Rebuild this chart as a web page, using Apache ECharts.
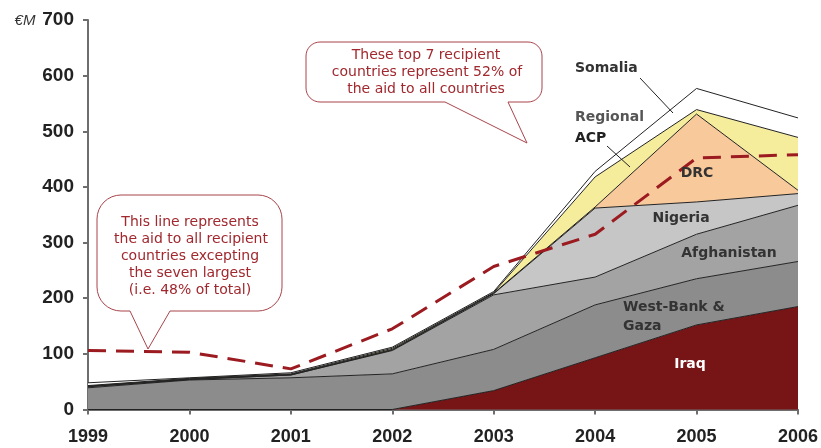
<!DOCTYPE html>
<html>
<head>
<meta charset="utf-8">
<style>
html,body{margin:0;padding:0;background:#fff;}
#chart{width:821px;height:448px;}
</style>
<script src="https://cdn.jsdelivr.net/npm/echarts@6/dist/echarts.min.js"></script>
</head>
<body>
<div id="chart"></div>
<script>
const years = ['1999', '2000', '2001', '2002', '2003', '2004', '2005', '2006'];
const iraq = [0, 0, 0, 0, 34, 93, 152, 185];
const westBankGaza = [39, 53, 57, 64, 74, 95, 83, 81];
const afghanistan = [2, 1, 5, 42, 98, 50, 80, 101];
const nigeria = [0, 0, 0, 1, 2, 124, 58, 21];
const drc = [1, 1, 1, 1, 1, 2, 158, 6];
const regionalACP = [1, 1, 1, 2, 1, 54, 8, 95];
const somalia = [5, 1, 2, 2, 2, 10, 38, 35];
const otherCountries = [106, 103, 73, 145, 257, 315, 452, 458];

const chart = echarts.init(document.getElementById('chart'));

function areaSeries(name, data, color) {
  return {
    name: name, type: 'line', stack: 'total', data: data,
    symbol: 'none', smooth: false,
    lineStyle: { color: '#222', width: 1 },
    areaStyle: { color: color, opacity: 1 },
    emphasis: { disabled: true }
  };
}

// rounded-rectangle callout outline with a tail on the bottom edge
function bubblePoints(x1, y1, x2, y2, r, tailA, tailB, tip) {
  const pts = [];
  function arc(cx, cy, a0, a1) {
    const n = 8;
    for (let i = 0; i <= n; i++) {
      const a = a0 + (a1 - a0) * i / n;
      pts.push([cx + r * Math.cos(a), cy + r * Math.sin(a)]);
    }
  }
  arc(x1 + r, y1 + r, Math.PI, Math.PI * 1.5);
  arc(x2 - r, y1 + r, Math.PI * 1.5, Math.PI * 2);
  arc(x2 - r, y2 - r, 0, Math.PI * 0.5);
  pts.push([tailB, y2]);
  pts.push(tip);
  pts.push([tailA, y2]);
  arc(x1 + r, y2 - r, Math.PI * 0.5, Math.PI);
  return pts;
}

const redText = '#a1282e';
const redBorder = '#a8444a';
const labFont = 'bold 14px "DejaVu Sans"';
const bFont = '14px "DejaVu Sans"';

function t(x, y, text, fill, font, align) {
  return { type: 'text', z: 101, x: x, y: y, style: { text: text, fill: fill, font: font, textAlign: align || 'center', textVerticalAlign: 'middle' } };
}

const option = {
  animation: false,
  grid: { left: 88, right: 21, top: 20, bottom: 38.5 },
  xAxis: {
    type: 'category', data: years, boundaryGap: false,
    axisLine: { lineStyle: { color: '#6e6e6e', width: 2 } },
    axisTick: { lineStyle: { color: '#6e6e6e', width: 2 }, length: 5 },
    axisLabel: { color: '#222', fontSize: 18, fontWeight: 'bold', fontFamily: 'Liberation Sans', margin: 19 },
    splitLine: { show: false }
  },
  yAxis: {
    type: 'value', min: 0, max: 700, interval: 100,
    axisLine: { show: true, lineStyle: { color: '#6e6e6e', width: 2 } },
    axisTick: { show: true, lineStyle: { color: '#6e6e6e', width: 2 }, length: 5 },
    axisLabel: { color: '#222', fontSize: 19, fontWeight: 'bold', fontFamily: 'Liberation Sans', margin: 14 },
    splitLine: { show: false }
  },
  series: [
    areaSeries('Iraq', iraq, '#771416'),
    areaSeries('West-Bank & Gaza', westBankGaza, '#8c8c8c'),
    areaSeries('Afghanistan', afghanistan, '#a3a3a3'),
    areaSeries('Nigeria', nigeria, '#c6c6c6'),
    areaSeries('DRC', drc, '#f8c99b'),
    areaSeries('Regional ACP', regionalACP, '#f5ec9c'),
    areaSeries('Somalia', somalia, '#ffffff'),
    {
      name: 'Other countries', type: 'line', data: otherCountries,
      symbol: 'none', smooth: false, z: 5,
      lineStyle: { color: '#9b1b20', width: 3, type: [18, 10] },
      emphasis: { disabled: true }
    }
  ],
  graphic: [
    t(25, 21, '€M', '#333', 'italic 15px "Liberation Sans"'),
    { type: 'polygon', z: 100, shape: { points: bubblePoints(306, 42, 542, 102, 14, 445, 508, [527, 143]) },
      style: { fill: '#fff', stroke: redBorder, lineWidth: 1 } },
    t(426, 55, 'These top 7 recipient', redText, bFont),
    t(427, 72, 'countries represent 52% of', redText, bFont),
    t(426, 89, 'the aid to all countries', redText, bFont),
    { type: 'polygon', z: 100, shape: { points: bubblePoints(97, 195, 282, 311, 24, 130, 170, [148, 349]) },
      style: { fill: '#fff', stroke: redBorder, lineWidth: 1 } },
    t(190, 222, 'This line represents', redText, bFont),
    t(191, 239, 'the aid to all recipient', redText, bFont),
    t(190, 256, 'countries excepting', redText, bFont),
    t(190, 273, 'the seven largest', redText, bFont),
    t(190, 290, '(i.e. 48% of total)', redText, bFont),
    t(575, 68, 'Somalia', '#333', labFont, 'left'),
    { type: 'line', z: 100, shape: { x1: 640, y1: 78, x2: 673, y2: 113 }, style: { stroke: '#222', lineWidth: 1 } },
    t(575, 117, 'Regional', '#555', labFont, 'left'),
    t(575, 138, 'ACP', '#222', labFont, 'left'),
    { type: 'line', z: 100, shape: { x1: 607, y1: 146, x2: 630, y2: 167 }, style: { stroke: '#222', lineWidth: 1 } },
    t(697, 173, 'DRC', '#333', labFont),
    t(681, 218, 'Nigeria', '#333', labFont),
    t(729, 253, 'Afghanistan', '#333', labFont),
    t(623, 307, 'West-Bank &', '#333', labFont, 'left'),
    t(623, 326, 'Gaza', '#333', labFont, 'left'),
    t(690, 364, 'Iraq', '#fff', labFont)
  ]
};
chart.setOption(option);
</script>
</body>
</html>
